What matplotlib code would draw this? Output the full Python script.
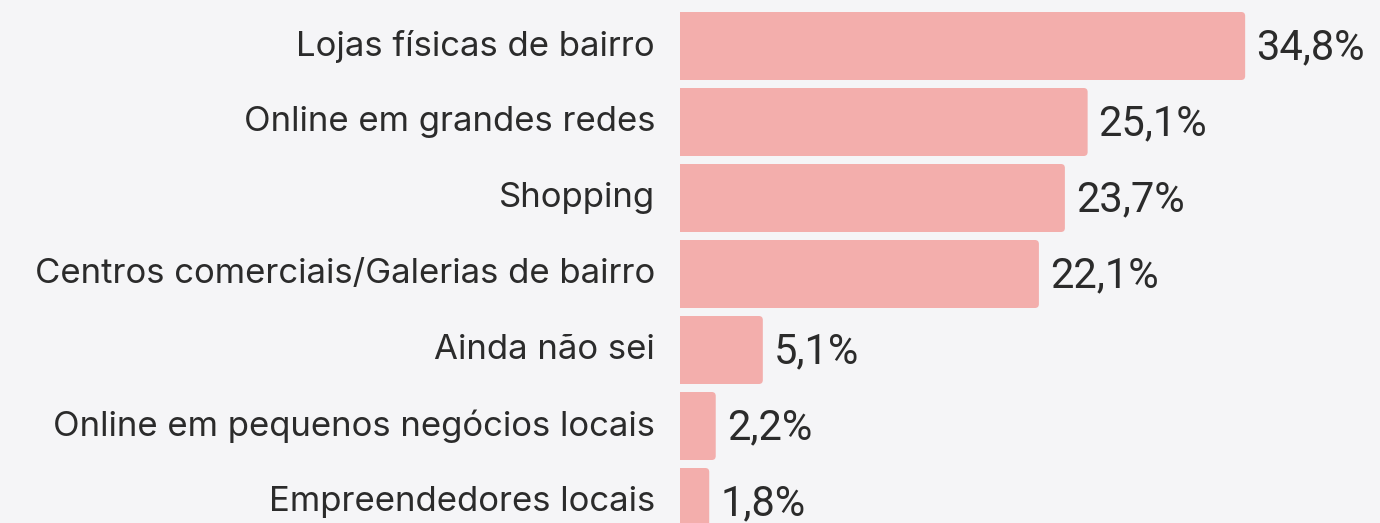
import matplotlib.pyplot as plt
from matplotlib.patches import FancyBboxPatch

categories = [
    "Lojas físicas de bairro",
    "Online em grandes redes",
    "Shopping",
    "Centros comerciais/Galerias de bairro",
    "Ainda não sei",
    "Online em pequenos negócios locais",
    "Empreendedores locais",
]
values = [34.8, 25.1, 23.7, 22.1, 5.1, 2.2, 1.8]
value_labels = ["34,8%", "25,1%", "23,7%", "22,1%", "5,1%", "2,2%", "1,8%"]

bg = "#f5f5f7"
bar_color = "#f3aeac"
text_color = "#2b2b2b"

fig = plt.figure(figsize=(13.8, 5.23), dpi=100)
fig.patch.set_facecolor(bg)
ax = fig.add_axes([680 / 1380, 0, 700 / 1380, 1])
ax.set_facecolor(bg)

px_x = 16.24  # pixels per percent
ax.set_xlim(0, 700 / px_x)
ax.set_ylim((523 - 46) / 76, -46 / 76)

bar_h = 68 / 76
for i, v in enumerate(values):
    r = 4 / px_x
    p = FancyBboxPatch((-1, i - bar_h / 2), v + 1, bar_h,
                       boxstyle=f"round,pad=0,rounding_size={r}",
                       mutation_aspect=(4 / 76) / r,
                       facecolor=bar_color, edgecolor="none")
    ax.add_patch(p)
    ax.text(v + 11 / px_x, i + 0.02, value_labels[i], ha="left", va="center",
            fontsize=30, family="Roboto", color=text_color)

for i, c in enumerate(categories):
    ax.text(-25 / px_x, i, c, ha="right", va="center", fontsize=25,
            family="Inter", color=text_color, clip_on=False)

ax.axis("off")
fig.savefig("out.png", dpi=100, facecolor=bg)
